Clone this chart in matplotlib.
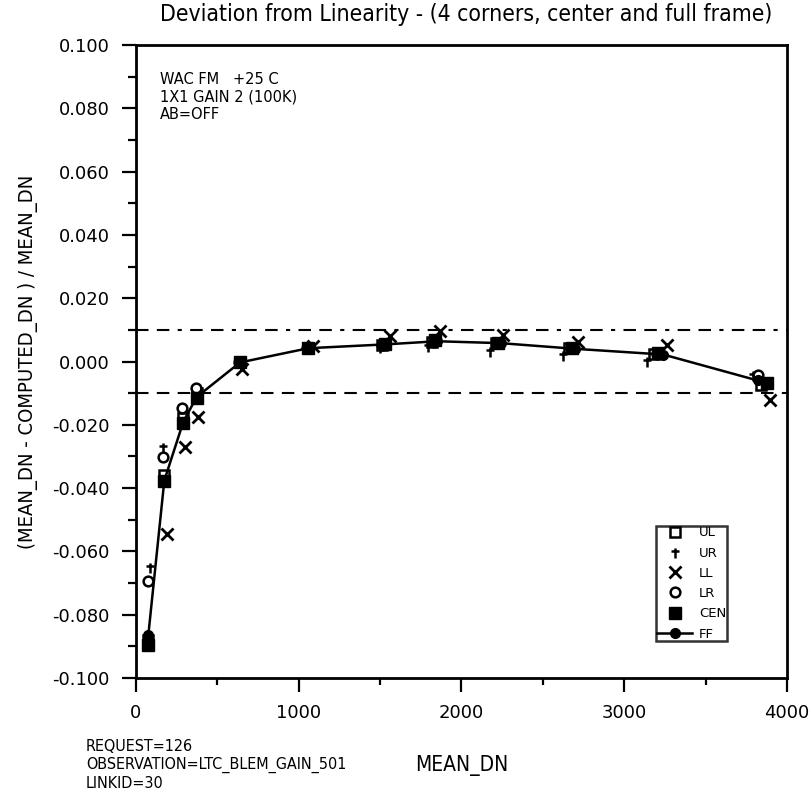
import matplotlib
matplotlib.use("Agg")
import matplotlib.pyplot as plt
from matplotlib.path import Path
from matplotlib.ticker import MultipleLocator, FuncFormatter

# --- data ---
ul_x = [76, 174, 291, 373, 639, 1059, 1510, 1820, 2210, 2660, 3180, 3840]
ul_y = [-0.0880, -0.0360, -0.0180, -0.0100, 0.0000, 0.0042, 0.0052, 0.0062, 0.0058, 0.0042, 0.0024, -0.0075]

ur_x = [86, 168, 281, 363, 630, 1045, 1499, 1796, 2175, 2626, 3137, 3793]
ur_y = [-0.0650, -0.0270, -0.0143, -0.0080, 0.0000, 0.0045, 0.0045, 0.0048, 0.0034, 0.0021, 0.0002, -0.0042]

ll_x = [188, 301, 383, 650, 1090, 1561, 1868, 2257, 2718, 3260, 3896]
ll_y = [-0.0544, -0.0270, -0.0175, -0.0023, 0.0048, 0.0079, 0.0095, 0.0083, 0.0063, 0.0053, -0.0122]

lr_x = [76, 168, 281, 369, 635, 1050, 1520, 1830, 2220, 2670, 3200, 3824]
lr_y = [-0.0693, -0.0302, -0.0148, -0.0085, 0.0000, 0.0043, 0.0053, 0.0063, 0.0058, 0.0043, 0.0024, -0.0042]

cen_x = [76, 174, 291, 373, 639, 1059, 1530, 1837, 2226, 2677, 3209, 3875]
cen_y = [-0.0897, -0.0376, -0.0193, -0.0116, -0.0002, 0.0043, 0.0055, 0.0067, 0.0060, 0.0044, 0.0026, -0.0068]

ff_x = [76, 174, 291, 373, 639, 1059, 1530, 1850, 2240, 2700, 3240, 3820]
ff_y = [-0.0863, -0.0376, -0.0190, -0.0112, -0.0003, 0.0042, 0.0054, 0.0064, 0.0058, 0.0040, 0.0022, -0.0060]

limit_hi = 0.010
limit_lo = -0.010

narrow = dict(family=["DejaVu Sans Condensed", "DejaVu Sans"], stretch="condensed")


def fmt_y(v, pos):
    s = "%.3f" % v
    return "0.000" if s == "-0.000" else s


# dagger-like marker used for UR
ur_marker = Path([(0, -1), (0, 0.6), (-0.7, 0.1), (0.7, 0.1)],
                 [Path.MOVETO, Path.LINETO, Path.MOVETO, Path.LINETO])

fig = plt.figure(figsize=(8.12, 7.96), dpi=100)
ax = fig.add_axes([136 / 812, 1 - 678 / 796, 651 / 812, 633 / 796])

ax.axhline(limit_hi, color="black", lw=1.5, ls=(0, (6, 4, 6, 4, 2, 4)), zorder=1)
ax.axhline(limit_lo, color="black", lw=1.5, ls=(0, (6, 4)), zorder=1)

ax.plot(ul_x, ul_y, ls="none", marker="s", ms=7, mfc="white", mec="black", mew=1.8, label="UL", zorder=2)
ax.plot(ur_x, ur_y, ls="none", marker=ur_marker, ms=9, color="black", mew=1.8, label="UR", zorder=3)
ax.plot(ll_x, ll_y, ls="none", marker="x", ms=8, color="black", mew=2.0, label="LL", zorder=3)
ax.plot(lr_x, lr_y, ls="none", marker="o", ms=7, mfc="white", mec="black", mew=1.8, label="LR", zorder=3)
ax.plot(ff_x, ff_y, ls="-", lw=1.8, marker="o", ms=7, color="black", label="FF", zorder=4)
ax.plot(cen_x, cen_y, ls="none", marker="s", ms=8.5, color="black", label="CEN", zorder=5)

ax.set_xlim(0, 4000)
ax.set_ylim(-0.100, 0.100)
ax.xaxis.set_major_locator(MultipleLocator(1000))
ax.xaxis.set_minor_locator(MultipleLocator(500))
ax.yaxis.set_major_locator(MultipleLocator(0.020))
ax.yaxis.set_minor_locator(MultipleLocator(0.010))
ax.yaxis.set_major_formatter(FuncFormatter(fmt_y))

for s in ax.spines.values():
    s.set_linewidth(2.0)
ax.tick_params(which="major", direction="out", length=10, width=1.6, pad=9, labelsize=13)
ax.tick_params(which="minor", direction="out", length=5, width=1.6)
ax.tick_params(axis="y", which="minor", length=6)

ax.set_ylabel("(MEAN_DN - COMPUTED_DN ) / MEAN_DN", fontsize=14.5, labelpad=10, **narrow)

fig.text(466 / 812, 1 - 15 / 796, "Deviation from Linearity - (4 corners, center and full frame)",
         ha="center", va="center", fontsize=16.5, **narrow)
fig.text(462 / 812, 1 - 766 / 796, "MEAN_DN", ha="center", va="center", fontsize=15, **narrow)
fig.text(86 / 812, 1 - 765 / 796, "REQUEST=126\nOBSERVATION=LTC_BLEM_GAIN_501\nLINKID=30",
         ha="left", va="center", fontsize=11.5, linespacing=1.2, **narrow)

ax.text(0.037, 0.957, "WAC FM   +25 C\n1X1 GAIN 2 (100K)\nAB=OFF", transform=ax.transAxes,
        ha="left", va="top", fontsize=10.5, linespacing=1.2)

# reorder so CEN comes before FF in the legend
handles, labels = ax.get_legend_handles_labels()
order = [labels.index(k) for k in ["UL", "UR", "LL", "LR", "CEN", "FF"]]
leg = ax.legend([handles[i] for i in order], [labels[i] for i in order],
                loc="lower left", bbox_to_anchor=(0.799, 0.058), fontsize=9.5,
                frameon=True, fancybox=False, handlelength=2.7, handletextpad=0.5,
                labelspacing=0.55, borderpad=0.05, borderaxespad=0)
leg.get_frame().set_edgecolor("black")
leg.get_frame().set_linewidth(1.8)

fig.savefig("out.png", dpi=100)
